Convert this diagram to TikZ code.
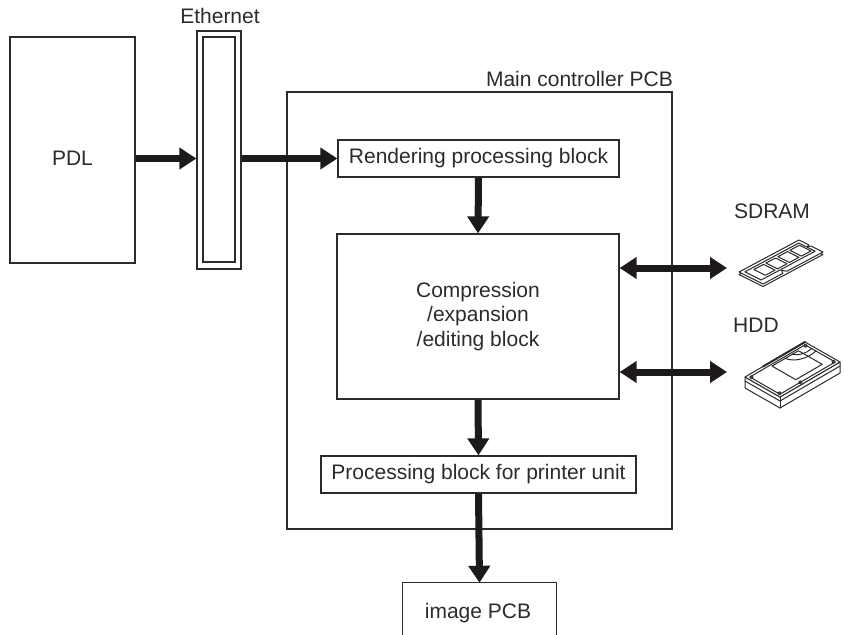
\documentclass[tikz,border=0pt]{standalone}
\usepackage{fontspec}
\setmainfont{Liberation Sans}
\usetikzlibrary{arrows.meta,calc}
\definecolor{ink}{HTML}{2B2B2B}
\definecolor{arrowink}{HTML}{1E1A1B}
\tikzset{
  blk/.style={draw=ink, line width=1.3pt, inner sep=0pt, text=ink, align=center},
  lbl/.style={text=ink, inner sep=0pt},
  bigarrow/.style={draw=arrowink, line width=7pt, -{Triangle[length=17pt,width=21pt]}},
  dblarrow/.style={draw=arrowink, line width=7pt,
    {Triangle[length=17pt,width=21pt]}-{Triangle[length=17pt,width=21pt]}},
  icon/.style={draw=ink, line width=1pt, line join=round, line cap=round},
}
\begin{document}
\begin{tikzpicture}[x=1pt, y=-1pt, font=\fontsize{21}{24.5}\selectfont]
\useasboundingbox (0,0) rectangle (844,635);

% source and network interface
\node[blk, minimum width=125pt, minimum height=226pt] (pdl) at (72.5,150) {};
\node[lbl, anchor=base] (pdltext) at (72.5,165) {PDL};
\node[blk, minimum width=44pt, minimum height=238pt] (eth) at (219,150) {};
\node[blk, minimum width=32pt, minimum height=225pt] (ethin) at (219,149.5) {};
\node[lbl, anchor=base] (ethlabel) at (220,23) {Ethernet};

% main controller board and its blocks
\node[blk, minimum width=385pt, minimum height=437pt] (main) at (479.5,310.5) {};
\node[lbl, anchor=base east] (mainlabel) at (673,86) {Main controller PCB};
\node[blk, minimum width=281pt, minimum height=37pt] (rend) at (478.5,158.5) {Rendering processing block};
\node[blk, minimum width=282pt, minimum height=165pt] (comp) at (478,316.5)
  {Compression\\/expansion\\/editing block};
\node[blk, minimum width=315pt, minimum height=37pt] (proc) at (478.5,474.5) {Processing block for printer unit};

% image board, open at the lower edge
\node[minimum width=153pt, minimum height=60pt, inner sep=0pt] (img) at (479.5,613) {};
\draw[draw=ink, line width=1.3pt] (img.south west) -- (img.north west) -- (img.north east) -- (img.south east);
\node[lbl, anchor=base] (imgtext) at (478,618) {image PCB};

% memory and disk labels
\node[lbl, anchor=base] (sdlabel) at (772,218) {SDRAM};
\node[lbl, anchor=base west] (hdlabel) at (733,332) {HDD};
\coordinate (sdport) at (727,268);
\coordinate (hdport) at (727,372);

% data flow
\draw[bigarrow] (pdl.east |- rend.west) -- (eth.west |- rend.west);
\draw[bigarrow] (eth.east |- rend.west) -- (rend.west);
\draw[bigarrow] (rend.south) -- (comp.north);
\draw[bigarrow] (comp.south) -- (proc.north);
\draw[bigarrow] (proc.south) -- (img.north);
\draw[dblarrow] (comp.east |- sdport) -- (sdport);
\draw[dblarrow] (comp.east |- hdport) -- (hdport);

% SDRAM module
\begin{scope}[shift={(739,272)}, x={(60pt,32pt)}, y={(24pt,-12pt)}]
  \draw[icon, fill=white, yshift=-2.5pt] (0,0) -- (1,0) -- (1,1) -- (0,1) -- cycle;
  \draw[icon, fill=white] (0,0) -- (1,0) -- (1,0.4) -- (0.96,0.45) -- (1,0.5) -- (1,1)
    -- (0.4,1) -- (0.37,0.85) -- (0.33,1) -- (0,1) -- cycle;
  \draw[icon] (0.05,0.12) -- (0.95,0.12) -- (0.95,0.8) -- (0.05,0.8) -- cycle;
  \foreach \a in {0.16,0.36,0.56,0.76}
    \draw[icon] (\a,0.22) -- (\a+0.16,0.22) -- (\a+0.16,0.7) -- (\a,0.7) -- cycle;
\end{scope}

% hard disk drive
\begin{scope}[shift={(745,377)}, x={(60pt,35pt)}, y={(35pt,-20pt)}]
  \draw[icon, fill=white] (0,0) -- (0,1) -- (1,1) -- ([yshift=-11pt]1,1)
    -- ([yshift=-11pt]0,1) -- ([yshift=-11pt]0,0) -- cycle;
  \draw[icon] (0,1) -- ([yshift=-11pt]0,1);
  \draw[icon] ([yshift=-4pt]0,0) -- ([yshift=-4pt]0,1) -- ([yshift=-4pt]1,1);
  \draw[icon, fill=white] (0,0) -- (1,0) -- (1,1) -- (0,1) -- cycle;
  \draw[icon] (0.04,0.07) -- (0.96,0.07) -- (0.96,0.93) -- (0.04,0.93) -- cycle;
  \draw[icon] (0.38,0.12) -- (0.82,0.12) -- (0.82,0.8) -- (0.38,0.8) -- cycle;
  \draw[icon] (0.6,0.12) .. controls (0.62,0.35) and (0.78,0.45) .. (0.96,0.38);
  \draw[icon] (0.72,0.12) .. controls (0.74,0.25) and (0.85,0.3) .. (0.96,0.26);
  \draw[icon, line width=2pt] (0.3,0) -- (1,0);
  \foreach \p in {(0.05,0.1),(0.95,0.1),(0.95,0.9),(0.05,0.9),(0.38,0.93)}
    \draw[icon] \p circle[radius=1.6pt];
\end{scope}
\end{tikzpicture}
\end{document}
